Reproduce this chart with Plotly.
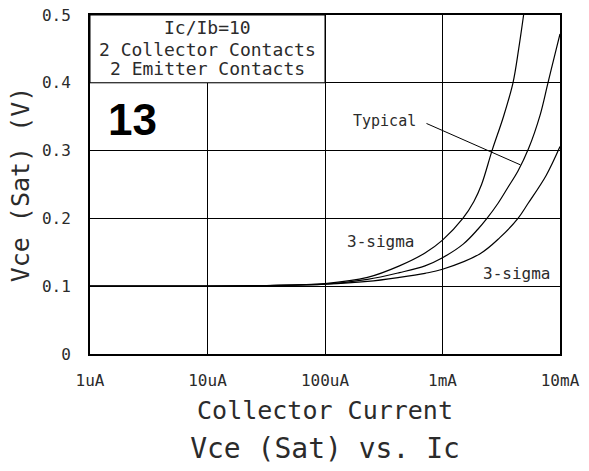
import numpy as np
import plotly.graph_objects as go

# Collector current (A) and Vce(sat) (V) for each curve
ic_upper = [1e-6, 1e-5, 3e-5, 1e-4, 2.3e-4, 4.3e-4, 7.1e-4, 1.0e-3, 1.49e-3, 1.85e-3,
            2.15e-3, 2.64e-3, 3.3e-3, 3.98e-3, 4.45e-3, 4.9e-3]
vce_upper = [0.100, 0.100, 0.101, 0.104, 0.113, 0.130, 0.149, 0.168, 0.200, 0.225,
             0.250, 0.300, 0.350, 0.400, 0.450, 0.500]

ic_typ = [1e-6, 1e-5, 3e-5, 1e-4, 2.3e-4, 4.3e-4, 7.1e-4, 1.0e-3, 1.5e-3, 2.0e-3,
          2.39e-3, 2.96e-3, 3.61e-3, 4.39e-3, 5.4e-3, 6.76e-3, 7.9e-3, 9.3e-3, 1e-2]
vce_typ = [0.100, 0.100, 0.101, 0.103, 0.110, 0.120, 0.130, 0.142, 0.162, 0.184,
           0.200, 0.222, 0.246, 0.270, 0.303, 0.352, 0.400, 0.450, 0.472]

ic_lower = [1e-6, 1e-5, 3e-5, 1e-4, 2.3e-4, 4.3e-4, 7.1e-4, 1.0e-3, 2.09e-3, 3.09e-3,
            4.39e-3, 5.34e-3, 7.6e-3, 1e-2]
vce_lower = [0.100, 0.100, 0.101, 0.103, 0.107, 0.113, 0.119, 0.125, 0.148, 0.172,
             0.200, 0.222, 0.263, 0.306]

x_tickvals = [1e-6, 1e-5, 1e-4, 1e-3, 1e-2]
x_ticktext = ["1uA", "10uA", "100uA", "1mA", "10mA"]
y_tickvals = [0, 0.1, 0.2, 0.3, 0.4, 0.5]
y_ticktext = ["0", "0.1", "0.2", "0.3", "0.4", "0.5"]

conditions = ["Ic/Ib=10", "2 Collector Contacts", "2 Emitter Contacts"]

FONT = "DejaVu Sans Mono"
INK = "#2b2b2b"

fig = go.Figure()
for xs, ys in [(ic_upper, vce_upper), (ic_typ, vce_typ), (ic_lower, vce_lower)]:
    fig.add_trace(go.Scatter(
        x=xs, y=ys, mode="lines",
        line=dict(color="black", width=1.2, shape="spline", smoothing=1.0),
        showlegend=False, hoverinfo="skip", cliponaxis=True,
    ))

# White panel holding the test conditions (hides the grid in that cell)
fig.add_shape(type="rect", xref="x", yref="y", x0=1e-6, x1=1e-4, y0=0.4, y1=0.5,
              fillcolor="white", line=dict(color="black", width=1), layer="between")

annotations = []
for txt, yv in zip(conditions, [0.481, 0.4485, 0.4206]):
    annotations.append(dict(x=-5, y=yv, xref="x", yref="y", text=txt, showarrow=False,
                            font=dict(family=FONT, size=18, color=INK)))

annotations.append(dict(x=-5.64, y=0.346, xref="x", yref="y", text="<b>13</b>",
                        showarrow=False,
                        font=dict(family="Liberation Sans", size=44, color="black")))

# Curve labels
annotations.append(dict(x=-3.2085, y=0.344, xref="x", yref="y", text="Typical",
                        xanchor="right", showarrow=False,
                        font=dict(family=FONT, size=15, color=INK)))
annotations.append(dict(x=np.log10(4.6e-3), y=0.279, xref="x", yref="y", text="",
                        showarrow=True, arrowhead=0, arrowwidth=1, arrowcolor="black",
                        axref="x", ayref="y", ax=-3.149, ay=0.341, standoff=0,
                        startstandoff=0))
annotations.append(dict(x=np.log10(2.94e-4), y=0.166, xref="x", yref="y", text="3-sigma",
                        showarrow=False, font=dict(family=FONT, size=16, color=INK)))
annotations.append(dict(x=np.log10(4.23e-3), y=0.119, xref="x", yref="y", text="3-sigma",
                        showarrow=False, font=dict(family=FONT, size=16, color=INK)))

fig.update_layout(
    width=589, height=471,
    margin=dict(l=90, r=29, t=15, b=117, autoexpand=False),
    paper_bgcolor="white", plot_bgcolor="white",
    font=dict(family=FONT, color=INK),
    title=dict(text="Vce (Sat) vs. Ic", x=0.5, xref="paper", xanchor="center",
               y=(471 - 448) / 471, yref="container", yanchor="middle",
               font=dict(family=FONT, size=28, color=INK)),
    annotations=annotations,
    showlegend=False,
)

fig.update_xaxes(
    type="log", range=[-6, -2], automargin=False,
    tickvals=x_tickvals, ticktext=x_ticktext,
    showgrid=True, gridcolor="black", gridwidth=1,
    showline=True, linecolor="black", linewidth=2, mirror=True,
    ticks="", ticklabelstandoff=11,
    tickfont=dict(family=FONT, size=16, color=INK),
    title=dict(text="Collector Current", standoff=12,
               font=dict(family=FONT, size=25, color=INK)),
    zeroline=False,
)
fig.update_yaxes(
    range=[0, 0.5], automargin=False,
    tickvals=y_tickvals, ticktext=y_ticktext,
    showgrid=True, gridcolor="black", gridwidth=1,
    showline=True, linecolor="black", linewidth=2, mirror=True,
    ticks="", ticklabelstandoff=14,
    tickfont=dict(family=FONT, size=16, color=INK),
    title=dict(text="Vce (Sat) (V)", standoff=5,
               font=dict(family=FONT, size=25, color=INK)),
    zeroline=False,
)

fig.write_html("out.html")
